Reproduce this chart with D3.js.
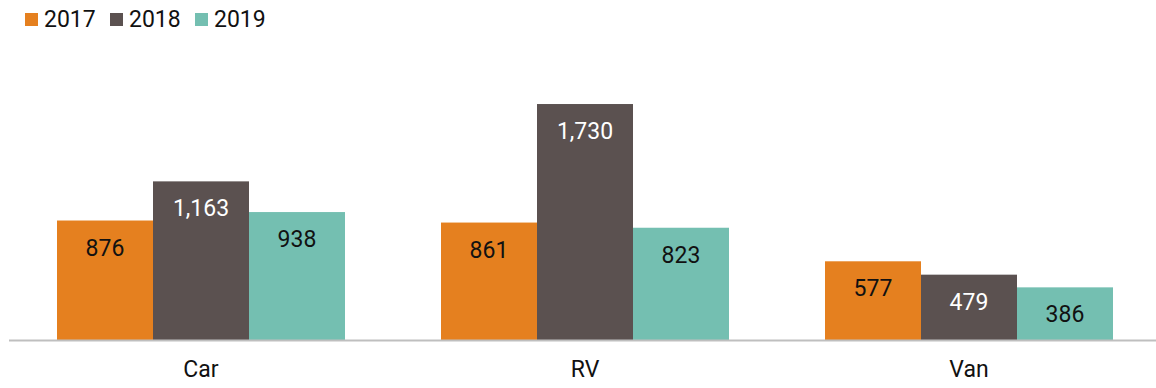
<!DOCTYPE html>
<html>
<head>
<meta charset="utf-8">
<script src="https://cdn.jsdelivr.net/npm/d3@7"></script>
<style>
  html, body { margin: 0; padding: 0; background: #fff; }
  svg { display: block; font-family: Roboto, "Noto Sans", sans-serif; }
</style>
</head>
<body>
<svg id="chart" width="1156" height="388"></svg>
<script>
const categories = ["Car", "RV", "Van"];
const years = ["2017", "2018", "2019"];
const values2017 = [876, 861, 577];
const values2018 = [1163, 1730, 479];
const values2019 = [938, 823, 386];
const colors = ["#E5801F", "#5B5150", "#74BFB1"];
const labelColors = ["#111", "#fff", "#111"];

const seriesValues = [values2017, values2018, values2019];
const rows = categories.map((c, i) => ({
  category: c,
  values: years.map((y, j) => ({ year: y, idx: j, value: seriesValues[j][i] }))
}));

const svg = d3.select("#chart");
const baseline = 340;
const fontSize = 23;

const x0 = d3.scaleBand().domain(categories).range([9, 1161]).padding(0);
const x1 = d3.scaleBand().domain(years).range([48, x0.bandwidth() - 48]).padding(0);
const y = d3.scaleLinear().domain([0, 2000]).range([baseline, baseline - 272.8]);

// Bars
const groups = svg.append("g").selectAll("g").data(rows).join("g")
  .attr("transform", d => `translate(${x0(d.category)},0)`);

groups.selectAll("rect").data(d => d.values).join("rect")
  .attr("x", d => x1(d.year))
  .attr("y", d => y(d.value))
  .attr("width", x1.bandwidth())
  .attr("height", d => y(0) - y(d.value))
  .attr("fill", d => colors[d.idx]);

// Value labels inside the bars
groups.selectAll("text").data(d => d.values).join("text")
  .attr("x", d => x1(d.year) + x1.bandwidth() / 2)
  .attr("y", d => y(d.value) + 35)
  .attr("text-anchor", "middle")
  .attr("font-size", fontSize)
  .attr("fill", d => labelColors[d.idx])
  .text(d => d3.format(",")(d.value));

// Category axis
const axis = svg.append("g")
  .attr("transform", `translate(0,${baseline})`)
  .call(d3.axisBottom(x0).tickSize(0).tickPadding(21));
axis.select(".domain").attr("stroke", "#BFBFBF").attr("stroke-width", 2)
  .attr("d", "M9,0.5H1156");
axis.selectAll("text").attr("font-size", fontSize).attr("fill", "#111")
  .attr("font-family", "Roboto, 'Noto Sans', sans-serif");

// Legend
const legendX = [25, 110, 195];
const legend = svg.append("g").selectAll("g").data(years).join("g")
  .attr("transform", (d, i) => `translate(${legendX[i]},13)`);
legend.append("rect").attr("width", 13).attr("height", 13)
  .attr("fill", (d, i) => colors[i]);
legend.append("text").attr("x", 19).attr("y", 14)
  .attr("font-size", fontSize).attr("fill", "#111").text(d => d);
</script>
</body>
</html>
